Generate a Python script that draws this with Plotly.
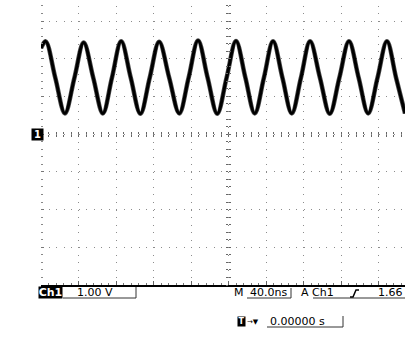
import plotly.graph_objects as go

# Sine on Ch1, 40 ns/div, 1 V/div
t_ns = [-200, -195, -184.8, -174.5, -164.3, -154.5, -144.3, -134, -124.3, -114.5,
        -104.3, -94, -84, -74, -63.3, -52.5, -42.5, -32.5, -22.3, -12, -2, 8,
        18, 28, 37.8, 47.5, 57.5, 67.5, 77.3, 87, 97.5, 108, 118.3, 128.5,
        138.8, 149, 159, 169, 178.7, 188.3]
volts = [2.28, 2.46, 1.5, 0.55, 1.5, 2.43, 1.5, 0.55, 1.5, 2.46,
         1.5, 0.54, 1.5, 2.45, 1.5, 0.55, 1.5, 2.48, 1.5, 0.54, 1.5, 2.47,
         1.5, 0.55, 1.5, 2.46, 1.5, 0.55, 1.5, 2.46, 1.5, 0.54, 1.5, 2.46,
         1.5, 0.55, 1.5, 2.46, 1.5, 0.55]

T_RANGE = [-200, 188.27]   # screen is cut off on the right
V_RANGE = [-4, 3.557]      # and at the top

readout = {"ch": "Ch1", "scale": "1.00 V", "time": "40.0ns",
           "trig_src": "Ch1", "trig_lvl": "1.66", "pos": "0.00000 s"}

L, H = 41, 285
def px(x): return (x - L) / 364
def py(y): return (H - y) / H

fig = go.Figure()
fig.add_trace(go.Scatter(x=t_ns, y=volts, mode="lines",
                         line=dict(color="rgba(0,0,0,0.7)", width=4.5, shape="spline", smoothing=1),
                         showlegend=False, hoverinfo="skip"))
fig.add_trace(go.Scatter(x=t_ns, y=volts, mode="lines",
                         line=dict(color="black", width=3, shape="spline", smoothing=1),
                         showlegend=False, hoverinfo="skip"))
# dummy traces so the centre-axis tick rows get drawn
for i in (2, 3):
    fig.add_trace(go.Scatter(x=[None], y=[None], xaxis=f"x{i}", yaxis=f"y{i}",
                             showlegend=False, hoverinfo="skip"))

grid = "#8c8c8c"
fig.update_layout(
    width=405, height=350,
    margin=dict(l=L, r=0, t=0, b=65),
    paper_bgcolor="white", plot_bgcolor="white",
    font=dict(family="DejaVu Sans", size=11, color="black"),
    xaxis=dict(range=T_RANGE, dtick=40, tick0=0, showgrid=True, gridcolor=grid,
               griddash="0px,5.92px,1px,0.62px", zeroline=False,
               showline=True, linecolor="black", linewidth=2,
               ticks="inside", ticklen=4, tickcolor="#666", showticklabels=False,
               minor=dict(dtick=8, ticks="inside", ticklen=2, tickcolor="#777", showgrid=False)),
    yaxis=dict(range=V_RANGE, dtick=1, tick0=0, showgrid=True, gridcolor=grid,
               griddash="1px,6.5px", zeroline=False, showline=False,
               ticks="inside", ticklen=3, tickcolor="#777", showticklabels=False,
               minor=dict(dtick=0.2, ticks="inside", ticklen=2, tickcolor="#888", showgrid=False)),
)
for i, side in ((2, "outside"), (3, "inside")):
    fig.update_layout(**{
        f"xaxis{i}": dict(range=T_RANGE, overlaying="x", anchor="free", position=4 / 7.557,
                          showgrid=False, zeroline=False, showline=False, showticklabels=False,
                          ticks=side, ticklen=2, tickcolor="#666", dtick=8, tick0=0),
        f"yaxis{i}": dict(range=V_RANGE, overlaying="y", anchor="free", position=200 / 388.27,
                          showgrid=False, zeroline=False, showline=False, showticklabels=False,
                          ticks=side, ticklen=2, tickcolor="#666", dtick=0.2, tick0=0),
    })

# channel 1 ground marker (V = 0 sits at y = 134.2 px): box with "1" + arrow tip
g = H - 4 * H / 7.557
fig.add_shape(type="path", xref="paper", yref="paper",
              path=f"M{px(35.5)},{py(g - 5.5)} L{px(41)},{py(g)} L{px(35.5)},{py(g + 5.5)} Z",
              fillcolor="black", line=dict(width=0), layer="above")
fig.add_annotation(x=px(30.5), y=py(g), xref="paper", yref="paper", text="<b>1</b>",
                   showarrow=False, font=dict(color="white", size=10),
                   bgcolor="black", width=11, height=11, borderpad=0)

# readout boxes
for x0, y0, x1, y1 in [(63, 298, 136, 298), (136, 287, 136, 298),
                       (247, 298, 291, 298), (291, 288, 291, 298),
                       (313, 298, 405, 298),
                       (267, 327, 343, 327), (343, 316, 343, 327)]:
    fig.add_shape(type="line", xref="paper", yref="paper",
                  x0=px(x0), y0=py(y0), x1=px(x1), y1=py(y1),
                  line=dict(color="#333", width=1))
# rising edge symbol
fig.add_shape(type="path", xref="paper", yref="paper",
              path=f"M{px(350)},{py(297)} L{px(353)},{py(297)} L{px(356)},{py(290)} L{px(359)},{py(290)}",
              line=dict(color="black", width=1.5))

def label(x, y, text, **kw):
    fig.add_annotation(x=px(x), y=py(y), xref="paper", yref="paper", text=text,
                       showarrow=False, xanchor="center", yanchor="middle", **kw)

label(50.5, 292.5, f"<b>{readout['ch']}</b>", bgcolor="black", font=dict(color="white", size=11),
      width=23, height=11, borderpad=0)
label(95, 292.5, readout["scale"])
label(239.5, 292.5, "M")
label(268, 292.5, readout["time"])
label(304.5, 292.5, "A")
label(322.5, 292.5, readout["trig_src"])
label(390.5, 292.5, readout["trig_lvl"])
label(241.5, 321.5, "<b>T</b>", bgcolor="black", font=dict(color="white", size=8),
      width=7, height=9, borderpad=0)
label(253, 321.5, "→▼", font=dict(size=7))
label(297, 321.5, readout["pos"])

# no page margin, so the figure sits at the window's top-left corner
fig.write_html("out.html", config={"displayModeBar": False},
               post_script="document.body.style.margin='0';")
